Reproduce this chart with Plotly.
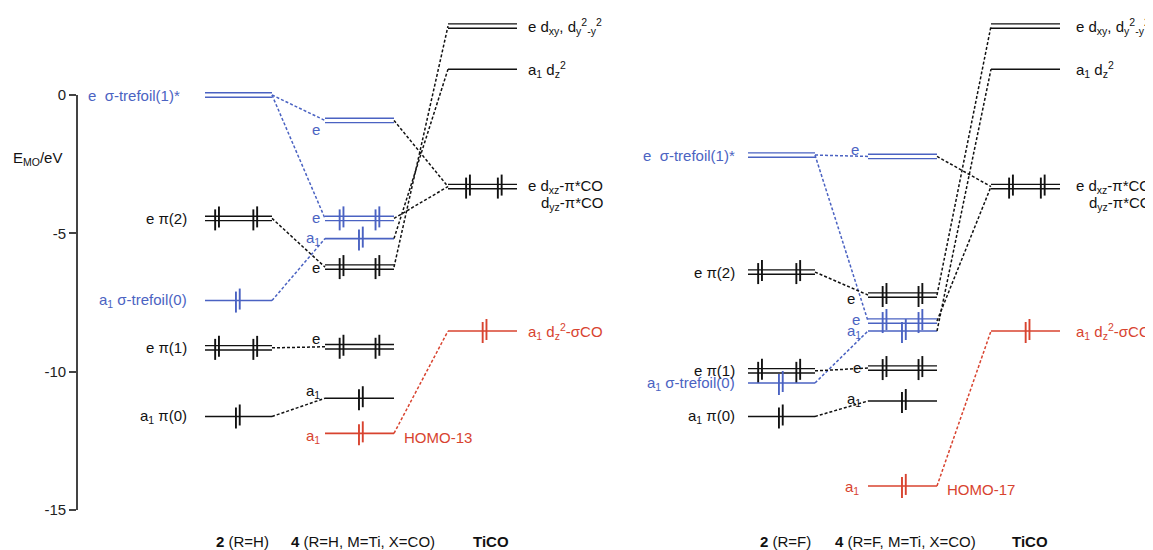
import plotly.graph_objects as go

# ---------------- data (energies in eV) ----------------
# column "2" (free ligand) levels, order: σ-trefoil(1)*, π(2), σ-trefoil(0), π(1), π(0)
h2_energy = [0.0, -4.46, -7.43, -9.14, -11.62]
f2_energy = [-2.17, -6.40, -10.41, -9.97, -11.62]
col2_sym = ['e', 'e', 'a1', 'e', 'a1']
col2_color = ['blue', 'black', 'blue', 'black', 'black']
col2_occ = [0, 4, 2, 4, 2]
col2_name = ['σ-trefoil(1)*', 'π(2)', 'σ-trefoil(0)', 'π(1)', 'π(0)']

# column "4" (complex) levels
h4_energy = [-0.92, -4.46, -5.19, -6.22, -9.10, -10.96, -12.23]
f4_energy = [-2.22, -8.17, -8.53, -7.23, -9.87, -11.06, -14.13]
col4_sym = ['e', 'e', 'a1', 'e', 'e', 'a1', 'a1']
col4_color = ['blue', 'blue', 'blue', 'black', 'black', 'black', 'red']
col4_occ = [0, 4, 2, 4, 4, 2, 2]

# TiCO fragment levels
tico_energy = [2.49, 0.93, -3.31, -8.53]
tico_sym = ['e', 'a1', 'e', 'a1']
tico_color = ['black', 'black', 'black', 'red']
tico_occ = [0, 0, 4, 2]
tico_name = ['d<sub>xy</sub>, d<sub>y</sub><sup>2</sup><sub>-y</sub><sup>2</sup>',
             'd<sub>z</sub><sup>2</sup>',
             'd<sub>xz</sub>-π*CO',
             'd<sub>z</sub><sup>2</sup>-σCO']
tico_name2 = 'd<sub>yz</sub>-π*CO'

# correlation lines (source index, target index)
links_2_4 = [(0, 0), (0, 1), (2, 2), (1, 3), (3, 4), (4, 5)]
links_4_t = [(0, 2), (1, 2), (2, 1), (3, 0), (6, 3)]

homo_labels = ['HOMO-13', 'HOMO-17']
col2_titles = ['<b>2</b> (R=H)', '<b>2</b> (R=F)']
col4_titles = ['<b>4</b> (R=H, M=Ti, X=CO)', '<b>4</b> (R=F, M=Ti, X=CO)']
tico_titles = ['<b>TiCO</b>', '<b>TiCO</b>']

y_ticks = [0, -5, -10, -15]
y_ticktext = ['0', '-5', '-10', '-15']
y_title = 'E<sub>MO</sub>/eV'

# ---------------- layout constants (screen pixels) ----------------
W, H = 1153, 550
OFF = 8                   # page body margin: figure starts at screen (8, 8)
K = 415 / 15.0            # px per eV
Y0 = 95                   # screen row of E = 0
Y15 = 510                 # screen row of E = -15
AX_X = 77                 # screen column of the energy axis
E_TOP = (Y0 - OFF) / K
E_BOT = -(H + OFF - Y0) / K
FONT = 'Liberation Sans, Arial, sans-serif'
FS = 15
COLORS = {'blue': '#4a62c2', 'black': '#111111', 'red': '#d8432f'}
TXT = {'blue': '#4b63c2', 'black': '#111111', 'red': '#d8432f'}

PANEL_DX = [0, 543]
COL2 = (205, 272)
COL4 = (325, 394)
TICO = (448, 517)
DOFF = 2.2 / K            # half spacing of doubly degenerate lines

E_FRAC = {'c2': ([0.18, 0.75], 0.49), 'c4': ([0.24, 0.76], 0.52), 'tc': ([0.29, 0.75], 0.53)}
col2_label_gap = [[23, 16, 16, 16, 16], [11, 11, 11, 11, 11]]
col4_label_off = [[(-3, 9), (-3, -1), (-3, 0), (-3, 0), (-3, -8), (-3, -7), (-3, 3)],
                  [(-7, -7), (-6, -2), (-5, 0), (-11, 3), (-5, -1), (-5, -1), (-7, 2)]]
tico_label_gap = [9, 14]


def ev(p):
    return p / K


segs = {}


def add_seg(key, x0, y0, x1, y1):
    xs, ys = segs.setdefault(key, ([], []))
    xs.extend([x0, x1, None])
    ys.extend([y0, y1, None])


def draw_level(xl, xr, E, sym, color, occ, fr):
    if sym == 'e':
        for s in (1, -1):
            add_seg((color, 'solid', 1.4), xl, E + s * DOFF, xr, E + s * DOFF)
    else:
        add_seg((color, 'solid', 1.6), xl, E, xr, E)
    npairs = occ // 2
    if npairs == 0:
        return
    fracs = fr[0] if npairs == 2 else [fr[1]]
    for f in fracs:
        xc = xl + f * (xr - xl)
        add_seg((color, 'solid', 1.9), xc - 1.9, E - ev(12), xc - 1.9, E + ev(9))
        add_seg((color, 'solid', 1.9), xc + 1.9, E + ev(12), xc + 1.9, E - ev(9))


annotations = []


def add_text(x, E, text, color='black', xanchor='center', yanchor='middle', size=FS):
    annotations.append(dict(x=x, y=E, xref='x', yref='y', text=text, showarrow=False,
                            xanchor=xanchor, yanchor=yanchor,
                            font=dict(family=FONT, size=size, color=TXT[color])))


def sym_txt(s):
    return 'a<sub>1</sub>' if s == 'a1' else 'e'


panels = [(h2_energy, h4_energy), (f2_energy, f4_energy)]
for p, (e2, e4) in enumerate(panels):
    dx = PANEL_DX[p]
    c2 = (COL2[0] + dx, COL2[1] + dx)
    c4 = (COL4[0] + dx, COL4[1] + dx)
    ct = (TICO[0] + dx, TICO[1] + dx)
    # levels
    for i, E in enumerate(e2):
        draw_level(c2[0], c2[1], E, col2_sym[i], col2_color[i], col2_occ[i], E_FRAC['c2'])
        sep = '\u00a0\u00a0' if i == 0 else ' '
        add_text(c2[0] - col2_label_gap[p][i], E, sym_txt(col2_sym[i]) + sep + col2_name[i],
                 col2_color[i], xanchor='right')
    for i, E in enumerate(e4):
        draw_level(c4[0], c4[1], E, col4_sym[i], col4_color[i], col4_occ[i], E_FRAC['c4'])
        ox, oy = col4_label_off[p][i]
        add_text(c4[0] + ox, E - ev(oy), sym_txt(col4_sym[i]), col4_color[i], xanchor='right')
    for i, E in enumerate(tico_energy):
        draw_level(ct[0], ct[1], E, tico_sym[i], tico_color[i], tico_occ[i], E_FRAC['tc'])
        add_text(ct[1] + tico_label_gap[p], E, sym_txt(tico_sym[i]) + ' ' + tico_name[i],
                 tico_color[i], xanchor='left')
    add_text(ct[1] + tico_label_gap[p] + 13, tico_energy[2] - ev(17), tico_name2, 'black', xanchor='left')
    # HOMO label
    add_text(c4[1] + 8, e4[6] - ev(4), homo_labels[p], 'red', xanchor='left')
    # correlation lines
    for a, b in links_2_4:
        col = col2_color[a]
        add_seg((col, 'dash', 1.5), c2[1], e2[a], c4[0], e4[b])
    for a, b in links_4_t:
        col = 'red' if col4_color[a] == 'red' else 'black'
        add_seg((col, 'dash', 1.5), c4[1], e4[a], ct[0], tico_energy[b])
    # column titles
    ytit = -(541 - Y0) / K
    add_text((c2[0] + c2[1]) / 2 + 4, ytit, col2_titles[p])
    add_text((c4[0] + c4[1]) / 2 + 3, ytit, col4_titles[p])
    add_text((ct[0] + ct[1]) / 2 + 8 - p * 4, ytit, tico_titles[p])

add_text(37, -(158 - Y0) / K, y_title, 'black')

fig = go.Figure()
for (col, dash, wd), (xs, ys) in segs.items():
    fig.add_trace(go.Scatter(x=xs, y=ys, mode='lines', hoverinfo='skip', showlegend=False,
                             line=dict(color=COLORS[col], width=wd,
                                       dash='3px,2px' if dash == 'dash' else 'solid')))

# dummy trace carrying the visible energy axis
fig.add_trace(go.Scatter(x=[OFF, OFF], y=[y_ticks[-1], y_ticks[0]], xaxis='x', yaxis='y2',
                         mode='markers', marker=dict(opacity=0), hoverinfo='skip', showlegend=False))

fig.update_layout(
    width=W, height=H,
    autosize=False,
    margin=dict(l=0, r=0, t=0, b=0, pad=0, autoexpand=False),
    paper_bgcolor='white', plot_bgcolor='rgba(0,0,0,0)',
    showlegend=False,
    xaxis=dict(range=[OFF, W + OFF], visible=False, fixedrange=True),
    yaxis=dict(range=[E_BOT, E_TOP], visible=False, fixedrange=True),
    yaxis2=dict(domain=[(H + OFF - Y15) / H, (H + OFF - Y0) / H], range=[y_ticks[-1], y_ticks[0]],
                anchor='free', position=(AX_X - OFF) / W, side='left',
                tickvals=y_ticks, ticktext=y_ticktext, ticks='outside', ticklen=7,
                tickwidth=1.5, tickcolor='#444', showline=True, linewidth=1.8,
                linecolor='#444', showgrid=False, zeroline=False, fixedrange=True,
                tickfont=dict(family=FONT, size=FS, color='#222')),
    annotations=annotations,
)

fig.write_html('out.html')
